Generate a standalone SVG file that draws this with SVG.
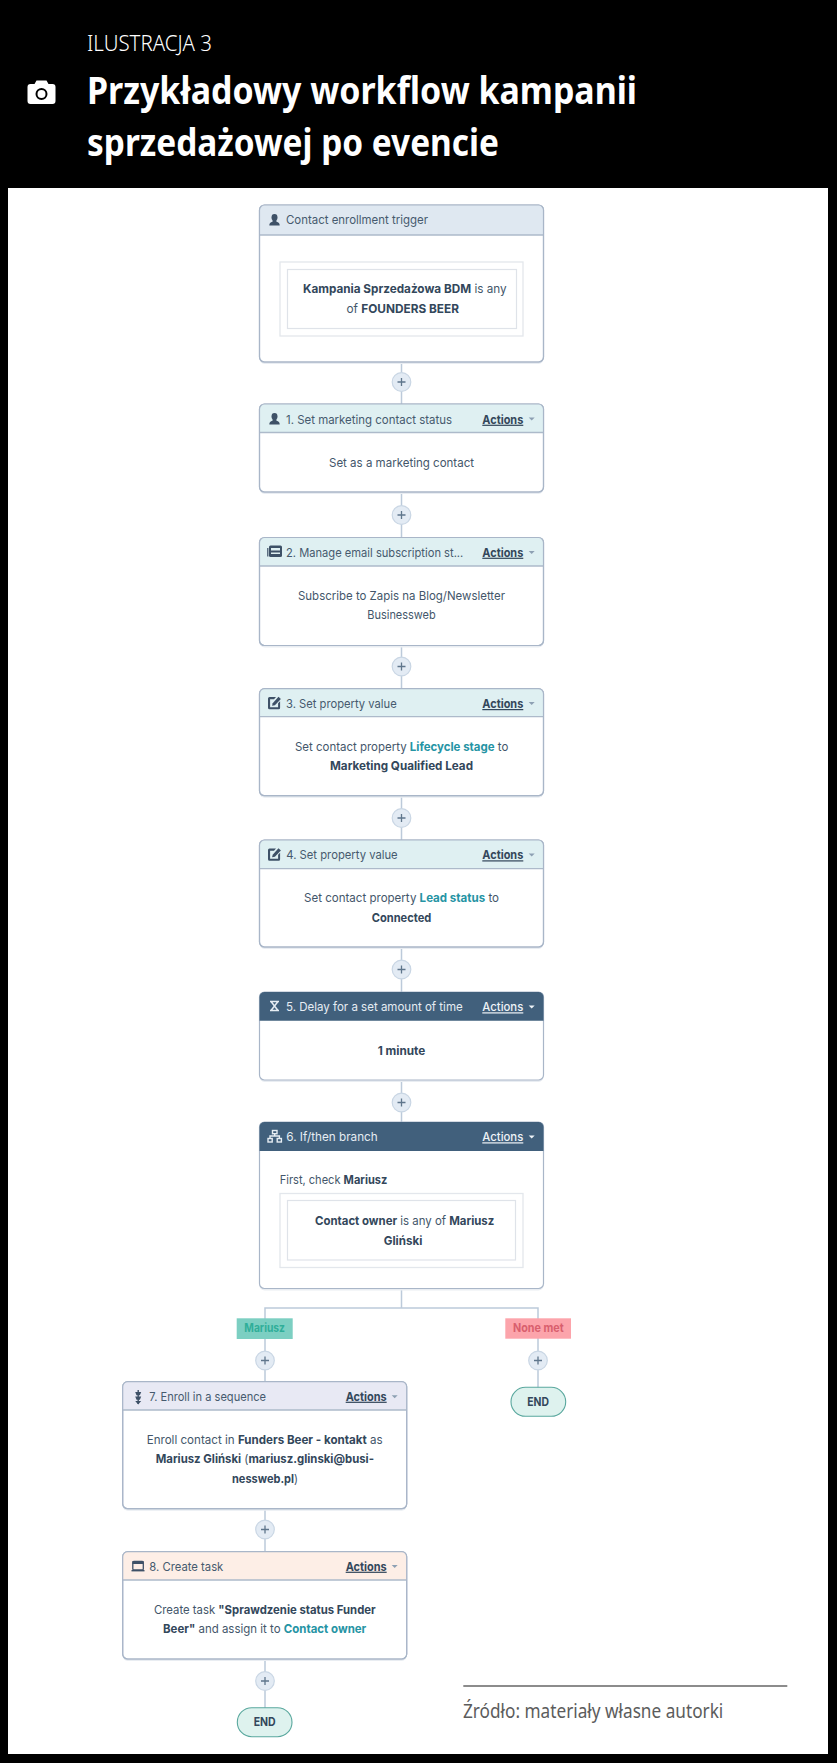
<svg xmlns="http://www.w3.org/2000/svg" width="837" height="1763" viewBox="0 0 837 1763">
<style>
text{font-family:"Inter","Liberation Sans",sans-serif;font-size:12.2px;fill:#43566a}
.b{font-weight:700;fill:#33475b}
.t{font-weight:700;fill:#2594a4}
.h{font-size:12.2px;fill:#465a6e}
.hd{font-size:12.2px;fill:#e6edf3}
.a{font-size:12.2px;font-weight:700;fill:#33475b;text-decoration:underline}
.ad{font-size:12.2px;font-weight:500;fill:#eef3f7;text-decoration:underline}
.card{fill:#fff;stroke:#a9b6c8;stroke-width:1.2}
.shadow{fill:#e9edf2}
.box{fill:#fff;stroke:#e3e7ec;stroke-width:1.3}
.ibox{fill:#fff;stroke:#dfe3e9;stroke-width:1.2}
.hl{stroke:#adbaca;stroke-width:1.3;fill:none}
.edge{fill:none;stroke:#a9b6c8;stroke-width:1.2}
.conn{stroke:#bccada;stroke-width:1.5;fill:none}
.plus circle{fill:#e3ebf4;stroke:#c9d6e4;stroke-width:1.2}
.plus path{stroke:#5f768c;stroke-width:1.3;fill:none}
.end{fill:#def2ee;stroke:#5aa89e;stroke-width:1.1}
.ic{fill:#3e5167}
.head{font-family:"Noto Sans","Open Sans",sans-serif;fill:#fff}
</style>
<defs>
<g id="plusmark" class="plus"><circle r="9.3"/><path d="M-4 0H4M0-4V4"/></g>
<g id="person"><ellipse cx="0" cy="-2.6" rx="3" ry="3.4"/><path d="M-1.8 0H1.8L2 1.8Q5.2 2.6 5.2 5.4H-5.2Q-5.2 2.6-2 1.8Z"/></g>
<g id="edit"><path d="M-6.5-4.5a1.5 1.5 0 0 1 1.5-1.5H1.5L-0.5-3.8H-4.4V4.2H3.6V0.2L5.6-1.7V4.8a1.5 1.5 0 0 1-1.5 1.5H-5a1.5 1.5 0 0 1-1.5-1.5Z"/><path d="M-1.8 0.2L4-6.3L6.4-4L0.4 2.2L-2.4 2.8Z"/></g>
<polygon id="caret" points="-3,-1.5 3,-1.5 0,1.5"/>
</defs>

<rect id="background" width="837" height="1763" fill="#000"/>
<rect id="sheet" x="8" y="188" width="820" height="1566" fill="#fff"/>

<g id="heading">
<text class="head" x="87" y="51" style="font-size:22px;font-weight:300" textLength="125" lengthAdjust="spacingAndGlyphs">ILUSTRACJA 3</text>
<text class="head" x="87" y="104" style="font-size:37px;font-weight:700" textLength="550" lengthAdjust="spacingAndGlyphs">Przykładowy workflow kampanii</text>
<text class="head" x="87" y="156" style="font-size:37px;font-weight:700" textLength="412" lengthAdjust="spacingAndGlyphs">sprzedażowej po evencie</text>
<g id="camera">
<path d="M30.5 84H34.5L36.5 80.5H46.5L48.5 84H52.5Q55.5 84 55.5 87V101Q55.5 104 52.5 104H30.5Q27.5 104 27.5 101V87Q27.5 84 30.5 84Z" fill="#fff"/>
<circle cx="41.5" cy="94" r="5" fill="#fff" stroke="#000" stroke-width="2"/>
</g>
</g>

<g id="connectors">
<path class="conn" d="M401.5 362V404M401.5 492V538M401.5 645V689M401.5 796V840M401.5 947V992M401.5 1080V1122"/>
<path class="conn" d="M401.5 1288V1308M265 1382V1308H538V1388"/>
<path class="conn" d="M265 1509V1552M265 1659V1708"/>
</g>

<g id="plus-buttons">
<use id="plus-0" href="#plusmark" x="401.5" y="382"/>
<use id="plus-1" href="#plusmark" x="401.5" y="515"/>
<use id="plus-2" href="#plusmark" x="401.5" y="666.5"/>
<use id="plus-3" href="#plusmark" x="401.5" y="818"/>
<use id="plus-4" href="#plusmark" x="401.5" y="969.5"/>
<use id="plus-5" href="#plusmark" x="401.5" y="1102.5"/>
<use id="plus-6" href="#plusmark" x="265" y="1360.5"/>
<use id="plus-7" href="#plusmark" x="538" y="1360.5"/>
<use id="plus-8" href="#plusmark" x="265" y="1529.5"/>
<use id="plus-9" href="#plusmark" x="265" y="1681"/>
</g>

<g id="trigger">
<rect class="shadow" x="259.5" y="207" width="284" height="157" rx="5"/>
<rect class="card" x="259.5" y="205" width="284" height="157" rx="5"/>
<path d="M259.5 235V210a5 5 0 0 1 5-5H538.5a5 5 0 0 1 5 5V235Z" fill="#dfe8f1"/>
<path class="hl" d="M259.5 235H543.5"/>
<rect class="edge" x="259.5" y="205" width="284" height="157" rx="5"/>
<use class="ic" href="#person" x="274.5" y="220"/>
<text class="h" x="286" y="224" textLength="142" lengthAdjust="spacingAndGlyphs">Contact enrollment trigger</text>
<rect class="box" x="280" y="262" width="243" height="74"/>
<rect class="ibox" x="287.5" y="269.5" width="229" height="59"/>
<text x="303" y="293.3" textLength="203.7" lengthAdjust="spacingAndGlyphs"><tspan class="b">Kampania Sprzedażowa BDM</tspan> is any</text>
<text x="346.5" y="312.7" textLength="112.5" lengthAdjust="spacingAndGlyphs">of <tspan class="b">FOUNDERS BEER</tspan></text>
</g>

<g id="step-1">
<rect class="shadow" x="259.5" y="406" width="284" height="88" rx="5"/>
<rect class="card" x="259.5" y="404" width="284" height="88" rx="5"/>
<path d="M259.5 432.5V409a5 5 0 0 1 5-5H538.5a5 5 0 0 1 5 5V432.5Z" fill="#dff0f2"/>
<path class="hl" d="M259.5 432.5H543.5"/>
<rect class="edge" x="259.5" y="404" width="284" height="88" rx="5"/>
<use class="ic" href="#person" x="274.5" y="419"/>
<text class="h" x="286" y="423.7" textLength="166" lengthAdjust="spacingAndGlyphs">1. Set marketing contact status</text>
<text class="a" x="482.3" y="423.7" textLength="41" lengthAdjust="spacingAndGlyphs">Actions</text>
<use href="#caret" x="531.7" y="419" fill="#8da0b3"/>
<text x="329" y="466.7" textLength="145" lengthAdjust="spacingAndGlyphs">Set as a marketing contact</text>
</g>

<g id="step-2">
<rect class="shadow" x="259.5" y="539.5" width="284" height="108" rx="5"/>
<rect class="card" x="259.5" y="537.5" width="284" height="108" rx="5"/>
<path d="M259.5 566V542.5a5 5 0 0 1 5-5H538.5a5 5 0 0 1 5 5V566Z" fill="#dff0f2"/>
<path class="hl" d="M259.5 566H543.5"/>
<rect class="edge" x="259.5" y="537.5" width="284" height="108" rx="5"/>
<g id="news-icon" class="ic"><path d="M270.5 545.5h10a1.5 1.5 0 0 1 1.5 1.5v8.5a1.5 1.5 0 0 1-1.5 1.5h-10a1.5 1.5 0 0 1-1.5-1.5V547a1.5 1.5 0 0 1 1.5-1.5Z"/><path d="M267.8 548V556.5" stroke="#3e5167" stroke-width="1.2"/><path d="M271 548h9v2.5h-9ZM271 552.5h9v1.5h-9Z" fill="#dff0f2"/></g>
<text class="h" x="286" y="556.7" textLength="177.3" lengthAdjust="spacingAndGlyphs">2. Manage email subscription st...</text>
<text class="a" x="482.3" y="556.7" textLength="41" lengthAdjust="spacingAndGlyphs">Actions</text>
<use href="#caret" x="531.7" y="552.5" fill="#8da0b3"/>
<text x="298" y="600" textLength="207" lengthAdjust="spacingAndGlyphs">Subscribe to Zapis na Blog/Newsletter</text>
<text x="367.3" y="619.3" textLength="68.4" lengthAdjust="spacingAndGlyphs">Businessweb</text>
</g>

<g id="step-3">
<rect class="shadow" x="259.5" y="690.7" width="284" height="107" rx="5"/>
<rect class="card" x="259.5" y="688.7" width="284" height="107" rx="5"/>
<path d="M259.5 716.7V693.7a5 5 0 0 1 5-5H538.5a5 5 0 0 1 5 5V716.7Z" fill="#dff0f2"/>
<path class="hl" d="M259.5 716.7H543.5"/>
<rect class="edge" x="259.5" y="688.7" width="284" height="107" rx="5"/>
<use class="ic" href="#edit" x="274.5" y="703"/>
<text class="h" x="286" y="708" textLength="110.7" lengthAdjust="spacingAndGlyphs">3. Set property value</text>
<text class="a" x="482.3" y="708" textLength="41" lengthAdjust="spacingAndGlyphs">Actions</text>
<use href="#caret" x="531.7" y="703.5" fill="#8da0b3"/>
<text x="295" y="750.7" textLength="213.3" lengthAdjust="spacingAndGlyphs">Set contact property <tspan class="t">Lifecycle stage</tspan> to</text>
<text class="b" x="330" y="770.3" textLength="143" lengthAdjust="spacingAndGlyphs">Marketing Qualified Lead</text>
</g>

<g id="step-4">
<rect class="shadow" x="259.5" y="842" width="284" height="107" rx="5"/>
<rect class="card" x="259.5" y="840" width="284" height="107" rx="5"/>
<path d="M259.5 868.7V845a5 5 0 0 1 5-5H538.5a5 5 0 0 1 5 5V868.7Z" fill="#dff0f2"/>
<path class="hl" d="M259.5 868.7H543.5"/>
<rect class="edge" x="259.5" y="840" width="284" height="107" rx="5"/>
<use class="ic" href="#edit" x="274.5" y="854.5"/>
<text class="h" x="286.3" y="859.3" textLength="111.4" lengthAdjust="spacingAndGlyphs">4. Set property value</text>
<text class="a" x="482.3" y="859.3" textLength="41" lengthAdjust="spacingAndGlyphs">Actions</text>
<use href="#caret" x="531.7" y="855" fill="#8da0b3"/>
<text x="304" y="902.3" textLength="195" lengthAdjust="spacingAndGlyphs">Set contact property <tspan class="t">Lead status</tspan> to</text>
<text class="b" x="371.7" y="921.7" textLength="59.6" lengthAdjust="spacingAndGlyphs">Connected</text>
</g>

<g id="step-5">
<rect class="shadow" x="259.5" y="994" width="284" height="88" rx="5"/>
<rect class="card" x="259.5" y="992" width="284" height="88" rx="5"/>
<path d="M259.5 1020.7V997a5 5 0 0 1 5-5H538.5a5 5 0 0 1 5 5V1020.7Z" fill="#41607c"/>
<g id="hourglass" fill="none" stroke="#e6edf3" stroke-width="1.5"><path d="M270 1001.5H279M270 1010.5H279M271 1001.5L278 1010.5M278 1001.5L271 1010.5"/></g>
<text class="hd" x="286" y="1011.3" textLength="176.7" lengthAdjust="spacingAndGlyphs">5. Delay for a set amount of time</text>
<text class="ad" x="482.3" y="1011.3" textLength="41" lengthAdjust="spacingAndGlyphs">Actions</text>
<use href="#caret" x="531.7" y="1007" fill="#eef3f7"/>
<text class="b" x="377.7" y="1054.7" textLength="47.6" lengthAdjust="spacingAndGlyphs">1 minute</text>
</g>

<g id="step-6">
<rect class="shadow" x="259.5" y="1124" width="284" height="166.5" rx="5"/>
<rect class="card" x="259.5" y="1122" width="284" height="166.5" rx="5"/>
<path d="M259.5 1151V1127a5 5 0 0 1 5-5H538.5a5 5 0 0 1 5 5V1151Z" fill="#41607c"/>
<g id="tree-icon" fill="none" stroke="#e6edf3" stroke-width="1.4"><rect x="272.5" y="1130.5" width="4.5" height="3.2"/><path d="M274.7 1133.7V1136M270 1138V1136H279.4V1138"/><rect x="268" y="1138.5" width="4.2" height="3.5"/><rect x="277.2" y="1138.5" width="4.2" height="3.5"/></g>
<text class="hd" x="286.3" y="1141.3" textLength="91.4" lengthAdjust="spacingAndGlyphs">6. If/then branch</text>
<text class="ad" x="482.3" y="1141.3" textLength="41" lengthAdjust="spacingAndGlyphs">Actions</text>
<use href="#caret" x="531.7" y="1137" fill="#eef3f7"/>
<text x="279.7" y="1184.3" textLength="107.6" lengthAdjust="spacingAndGlyphs">First, check <tspan class="b">Mariusz</tspan></text>
<rect class="box" x="280" y="1193.5" width="243" height="74"/>
<rect class="ibox" x="287.5" y="1200.5" width="228" height="59.5"/>
<text x="315" y="1225" textLength="179.3" lengthAdjust="spacingAndGlyphs"><tspan class="b">Contact owner</tspan> is any of <tspan class="b">Mariusz</tspan></text>
<text class="b" x="383.7" y="1244.7" textLength="38.6" lengthAdjust="spacingAndGlyphs">Gliński</text>
</g>

<g id="branch-mariusz">
<rect x="236.7" y="1318.3" width="56" height="20.7" fill="#7ccfc2"/>
<text x="244.3" y="1332.3" style="font-weight:700;fill:#2fae99" textLength="40.7" lengthAdjust="spacingAndGlyphs">Mariusz</text>
</g>

<g id="branch-none-met">
<rect x="505.3" y="1318.3" width="65.7" height="20.4" fill="#fca4ab"/>
<text x="513" y="1332.3" style="font-weight:700;fill:#d95f6e" textLength="50.7" lengthAdjust="spacingAndGlyphs">None met</text>
</g>

<g id="end-right">
<rect class="end" x="511" y="1387.3" width="54.7" height="29" rx="14.5"/>
<text class="b" x="527.3" y="1405.7" textLength="21.7" lengthAdjust="spacingAndGlyphs">END</text>
</g>

<g id="step-7">
<rect class="shadow" x="122.7" y="1383.7" width="284" height="127" rx="5"/>
<rect class="card" x="122.7" y="1381.7" width="284" height="127" rx="5"/>
<path d="M122.7 1410V1386.7a5 5 0 0 1 5-5H401.7a5 5 0 0 1 5 5V1410Z" fill="#e8e9f4"/>
<path class="hl" d="M122.7 1410H406.7"/>
<rect class="edge" x="122.7" y="1381.7" width="284" height="127" rx="5"/>
<g id="sequence-icon" class="ic"><path d="M135.2 1392h6l-1.3 3.2h-3.4ZM135.2 1396.5h6l-1.3 3.2h-3.4ZM135.2 1401h6l-3 3.5Z"/><path d="M138.2 1390V1404" stroke="#3e5167" stroke-width="1.4"/></g>
<text class="h" x="149.3" y="1400.7" textLength="116.7" lengthAdjust="spacingAndGlyphs">7. Enroll in a sequence</text>
<text class="a" x="345.7" y="1400.7" textLength="41" lengthAdjust="spacingAndGlyphs">Actions</text>
<use href="#caret" x="394.7" y="1396.7" fill="#8da0b3"/>
<text x="146.7" y="1443.7" textLength="236" lengthAdjust="spacingAndGlyphs">Enroll contact in <tspan class="b">Funders Beer - kontakt</tspan> as</text>
<text x="155.7" y="1463.3" textLength="218.3" lengthAdjust="spacingAndGlyphs"><tspan class="b">Mariusz Gliński</tspan> (<tspan class="b">mariusz.glinski@busi-</tspan></text>
<text x="232" y="1482.7" textLength="66" lengthAdjust="spacingAndGlyphs"><tspan class="b">nessweb.pl</tspan>)</text>
</g>

<g id="step-8">
<rect class="shadow" x="122.7" y="1553.7" width="284" height="107.3" rx="5"/>
<rect class="card" x="122.7" y="1551.7" width="284" height="107.3" rx="5"/>
<path d="M122.7 1580V1556.7a5 5 0 0 1 5-5H401.7a5 5 0 0 1 5 5V1580Z" fill="#fdeee6"/>
<path class="hl" d="M122.7 1580H406.7"/>
<rect class="edge" x="122.7" y="1551.7" width="284" height="107.3" rx="5"/>
<g id="task-icon"><rect x="132.8" y="1561.5" width="10.5" height="8.5" rx="1" fill="none" stroke="#3e5167" stroke-width="1.3"/><rect x="132.5" y="1561" width="11" height="3" fill="#3e5167"/><rect x="131.5" y="1570" width="13" height="1.4" fill="#3e5167"/></g>
<text class="h" x="149.3" y="1570.7" textLength="74" lengthAdjust="spacingAndGlyphs">8. Create task</text>
<text class="a" x="345.7" y="1570.7" textLength="41" lengthAdjust="spacingAndGlyphs">Actions</text>
<use href="#caret" x="394.7" y="1566.5" fill="#8da0b3"/>
<text x="154" y="1613.7" textLength="221.7" lengthAdjust="spacingAndGlyphs">Create task <tspan class="b">"Sprawdzenie status Funder</tspan></text>
<text x="163" y="1633.3" textLength="203.3" lengthAdjust="spacingAndGlyphs"><tspan class="b">Beer"</tspan> and assign it to <tspan class="t">Contact owner</tspan></text>
</g>

<g id="end-left">
<rect class="end" x="237.3" y="1707.7" width="54.7" height="29" rx="14.5"/>
<text class="b" x="253.7" y="1726" textLength="22" lengthAdjust="spacingAndGlyphs">END</text>
</g>

<g id="source">
<rect x="463.3" y="1685" width="324" height="2" fill="#8c8c8c"/>
<text x="463" y="1718.3" style="font-family:'Noto Sans','Open Sans',sans-serif;font-size:20px;fill:#5c5c5c" textLength="260.3" lengthAdjust="spacingAndGlyphs">Źródło: materiały własne autorki</text>
</g>
</svg>
